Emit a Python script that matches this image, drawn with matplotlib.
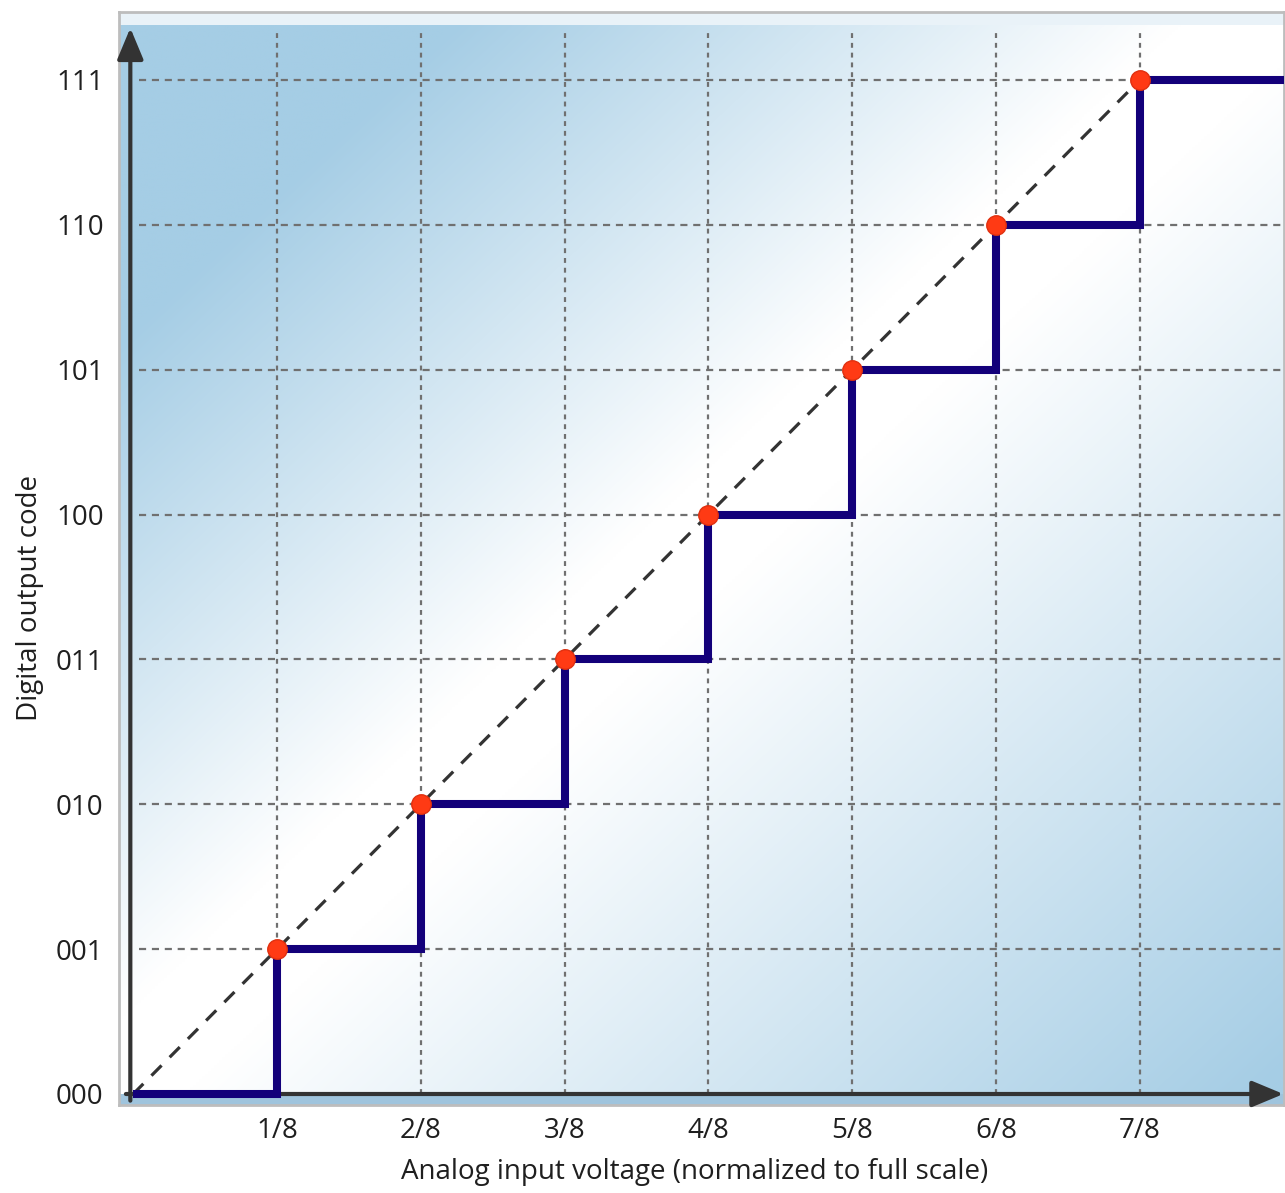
import numpy as np
import matplotlib
matplotlib.use("Agg")
import matplotlib.pyplot as plt

# ---- data ----
code_labels = ['000', '001', '010', '011', '100', '101', '110', '111']
code_values = [0, 1, 2, 3, 4, 5, 6, 7]
x_tick_labels = ['1/8', '2/8', '3/8', '4/8', '5/8', '6/8', '7/8']
x_tick_values = [1/8, 2/8, 3/8, 4/8, 5/8, 6/8, 7/8]
step_edges = [0, 1/8, 2/8, 3/8, 4/8, 5/8, 6/8, 7/8, 1.0]
step_levels = [0, 1, 2, 3, 4, 5, 6, 7, 7]
transition_x = [1/8, 2/8, 3/8, 4/8, 5/8, 6/8, 7/8]
transition_code = [1, 2, 3, 4, 5, 6, 7]
ideal_x = [0, 7/8]
ideal_code = [0, 7]

plt.rcParams['font.family'] = ['Open Sans', 'DejaVu Sans']

W, H = 1285, 1193
fig = plt.figure(figsize=(W / 100, H / 100), dpi=100)
left, right, top, bottom = 119, 1284, 12, 1105
ax = fig.add_axes([left / W, 1 - bottom / H, (right - left) / W, (bottom - top) / H])

x0 = (left - 133.2) / 143.8 / 8
x1 = (right - 133.2) / 143.8 / 8
y0 = -(bottom - 1094) / 144.86
y1 = (1094 - top) / 144.86
ax.set_xlim(x0, x1)
ax.set_ylim(y0, y1)

# ---- background gradient ----
n = 400
gx, gy = np.meshgrid(np.linspace(0, 1, n), np.linspace(0, 1, n))
sd = gy - gx
t = np.where(sd > 0, (sd - 0.08) / 0.62, (-sd - 0.05) / 0.92)
t = np.clip(t, 0, 1)
white = np.array([1.0, 1.0, 1.0])
blue = np.array([165, 205, 229]) / 255
img = white[None, None, :] * (1 - t[..., None]) + blue[None, None, :] * t[..., None]
ax.imshow(img, extent=[0, 1, 0, 1], transform=ax.transAxes, origin='lower',
          aspect='auto', zorder=0, interpolation='bilinear')

# bevel strips
ax.axhspan(y1 - 0.09, y1, color='#e9f2f8', zorder=0.5, lw=0)
ax.axhspan(y0, 0, color='#9fc4dd', zorder=0.5, lw=0)

for s in ax.spines.values():
    s.set_color('#bdbdbd')
    s.set_linewidth(2.0)

# ---- grid ----
grid_c = '#707070'
ax.vlines(x_tick_values, 0, y1 - 0.12, colors=grid_c, linewidth=1.6,
          linestyles=(0, (2.2, 2.2)), zorder=1)
ax.hlines(code_values[1:], 0.005, x1, colors=grid_c, linewidth=1.6,
          linestyles=(0, (3.2, 2.6)), zorder=1)

# ---- axes with arrows ----
axis_c = '#333333'
ax.annotate('', xy=(x1 - 0.0005, 0), xytext=(x0 + 0.006, 0),
            arrowprops=dict(arrowstyle='-|>,head_length=0.6,head_width=0.25',
                            lw=3.0, color=axis_c, mutation_scale=32,
                            shrinkA=0, shrinkB=0),
            zorder=3, annotation_clip=False)
ax.annotate('', xy=(-0.0025, y1 - 0.11), xytext=(-0.0025, y0 + 0.03),
            arrowprops=dict(arrowstyle='-|>,head_length=0.6,head_width=0.25',
                            lw=3.0, color=axis_c, mutation_scale=32,
                            shrinkA=0, shrinkB=0),
            zorder=3, annotation_clip=False)

# ---- ideal line ----
ax.plot(ideal_x, ideal_code, color='#333333', linewidth=2.3,
        linestyle=(0, (4.5, 3.6)), zorder=2)

# ---- staircase ----
ax.step(step_edges, step_levels, where='post', color='#13007a', linewidth=5.8,
        solid_joinstyle='miter', solid_capstyle='butt', zorder=4)

# ---- transition points ----
ax.plot(transition_x, transition_code, 'o', color='#ff3a14', markersize=14,
        markeredgecolor='#e0300f', markeredgewidth=1.0, zorder=5)

# ---- ticks & labels ----
txt_c = '#1f1f1f'
ax.set_xticks(x_tick_values)
ax.set_xticklabels(x_tick_labels)
ax.set_yticks(code_values)
ax.set_yticklabels(code_labels)
ax.tick_params(axis='both', length=0, labelsize=20, colors=txt_c)
ax.tick_params(axis='x', pad=9)
ax.tick_params(axis='y', pad=11)
ax.set_xlabel('Analog input voltage (normalized to full scale)', fontsize=20,
              color=txt_c)
ax.xaxis.set_label_coords((695 - left) / (right - left), -(1172 - bottom) / (bottom - top))
ax.xaxis.label.set_va('center')
ax.set_ylabel('Digital output code', fontsize=20, color=txt_c)
ax.yaxis.set_label_coords((30 - left) / (right - left), (bottom - 598) / (bottom - top))
ax.yaxis.label.set_va('center')

fig.savefig('out.png', dpi=100)
